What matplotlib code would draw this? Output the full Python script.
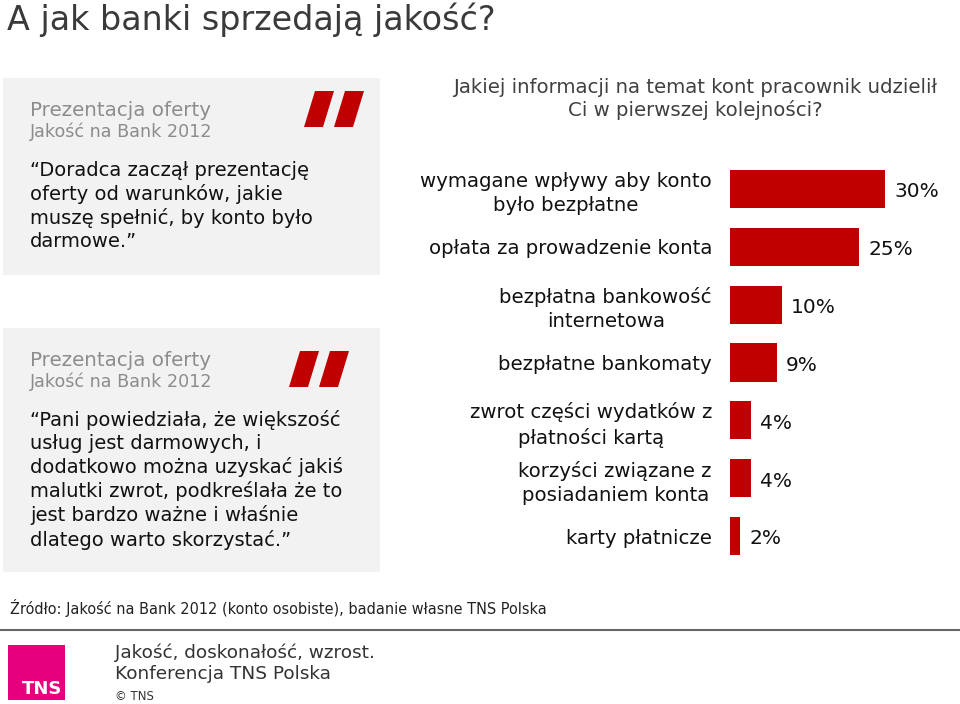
import matplotlib.pyplot as plt
from matplotlib.patches import Rectangle, Polygon

# chart data
categories = [
    "wymagane wpływy aby konto\nbyło bezpłatne",
    "opłata za prowadzenie konta",
    "bezpłatna bankowość\ninternetowa",
    "bezpłatne bankomaty",
    "zwrot części wydatków z\npłatności kartą",
    "korzyści związane z\nposiadaniem konta",
    "karty płatnicze",
]
values = [30, 25, 10, 9, 4, 4, 2]

title = "A jak banki sprzedają jakość?"
question = "Jakiej informacji na temat kont pracownik udzielił\nCi w pierwszej kolejności?"
box_head = "Prezentacja oferty"
box_sub = "Jakość na Bank 2012"
quote1 = "\u201cDoradca zaczął prezentację\noferty od warunków, jakie\nmuszę spełnić, by konto było\ndarmowe.\u201d"
quote2 = ("\u201cPani powiedziała, że większość\nusług jest darmowych, i\n"
          "dodatkowo można uzyskać jakiś\nmalutki zwrot, podkreślała że to\n"
          "jest bardzo ważne i właśnie\ndlatego warto skorzystać.\u201d")
source = "Źródło: Jakość na Bank 2012 (konto osobiste), badanie własne TNS Polska"
footer1 = "Jakość, doskonałość, wzrost."
footer2 = "Konferencja TNS Polska"

RED = "#C00000"
W, H = 960, 704

plt.rcParams['font.family'] = ['DejaVu Sans']
fig = plt.figure(figsize=(W / 100, H / 100), dpi=100)

# background layer in pixel coordinates
bg = fig.add_axes([0, 0, 1, 1])
bg.set_xlim(0, W)
bg.set_ylim(H, 0)
bg.axis("off")

bg.text(7, 20, title, fontsize=24, color="#3A3A3A", va="center", ha="left")


def quote_box(y0, y1, qx, qy, text, text_y):
    bg.add_patch(Rectangle((3, y0), 377, y1 - y0, color="#F2F2F2", lw=0))
    for dx in (0, 30):
        x = qx + dx
        bg.add_patch(Polygon([(x + 11, qy), (x + 30, qy), (x + 19, qy + 36), (x, qy + 36)],
                             closed=True, color=RED, lw=0))
    bg.text(30, y0 + 32, box_head, fontsize=14.3, color="#8C8C8C", va="center")
    bg.text(30, y0 + 54, box_sub, fontsize=12.6, color="#8C8C8C", va="center")
    bg.text(30, text_y, text, fontsize=14, color="#111111", va="top", linespacing=1.26)


quote_box(78, 275, 304, 91, quote1, 161)
quote_box(328, 572, 289, 351, quote2, 410)

bg.text(695, 99, question, fontsize=14.2, color="#404040", ha="center", va="center",
        linespacing=1.2)

# footer
bg.text(10, 608, source, fontsize=10.45, color="#222222", va="center")
bg.plot([0, W], [630, 630], color="#666666", lw=1.5)
bg.add_patch(Rectangle((8, 645), 57, 55, color="#E6007E", lw=0))
bg.text(62, 689, "TNS", fontsize=13, color="white", fontweight="bold", ha="right", va="center")
bg.text(115, 653, footer1, fontsize=13.3, color="#333333", va="center")
bg.text(115, 674, footer2, fontsize=13.3, color="#333333", va="center")
bg.text(115, 696, "© TNS", fontsize=8.5, color="#333333", va="center")

# bar chart
ax = fig.add_axes([730 / W, (H - 565) / H, 207 / W, 405 / H])
ypos = list(range(len(categories)))
ax.barh(ypos, values, height=0.66, color=RED)
ax.set_xlim(0, 40)
ax.set_ylim(len(categories) - 0.5, -0.5)
ax.set_yticks(ypos)
ax.set_yticklabels(categories, fontsize=14.2, color="#111111", multialignment="center",
                   linespacing=1.35)
ax.tick_params(axis="y", length=0, pad=13)
ax.set_xticks([])
for s in ax.spines.values():
    s.set_visible(False)
ax.patch.set_alpha(0)
for y, v in zip(ypos, values):
    ax.text(v + 1.75, y + 0.05, f"{v}%", fontsize=14.5, color="#111111", va="center", ha="left")

fig.savefig("out.png", dpi=100)
